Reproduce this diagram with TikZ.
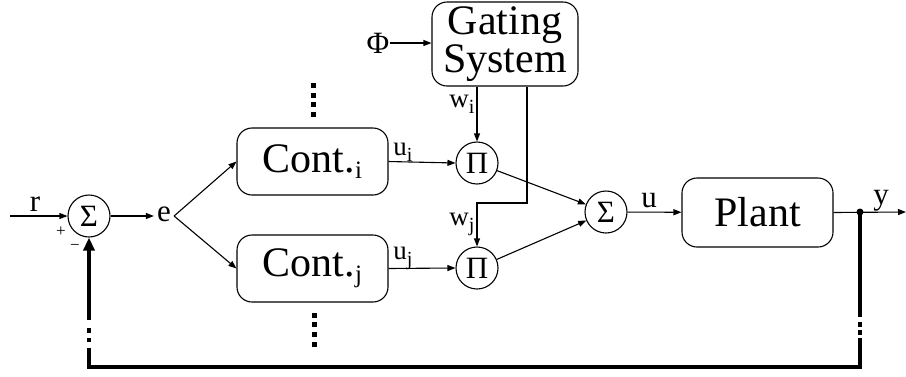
\documentclass[tikz,border=0pt]{standalone}
\usepackage{fontspec}
\setmainfont{Liberation Serif}
\usetikzlibrary{arrows.meta}
% lowered, smaller index letter
\newcommand\sbx[2][20]{\raisebox{-6pt}{\fontsize{#1}{#1}\selectfont #2}}
\tikzset{
  wire/.style={line width=1.1pt, -{Triangle[length=8pt,width=6pt]}},
  blockbox/.style={draw, line width=1.1pt, rounded corners=15pt, inner sep=0pt,
    font=\fontsize{42}{36}\selectfont, align=center},
  junction/.style={draw, circle, line width=1.1pt, minimum size=42pt, inner sep=0pt,
    font=\fontsize{31}{31}\selectfont},
  lbl/.style={inner sep=0pt, font=\fontsize{31}{31}\selectfont},
  slbl/.style={inner sep=0pt, font=\fontsize{27}{27}\selectfont},
  sign/.style={inner sep=0pt, font=\fontsize{17}{17}\selectfont},
  vdots/.style={fill=black, minimum size=5pt, inner sep=0pt},
  feedback/.style={line width=3.3pt,
    dash pattern=on 105pt off 5pt on 5pt off 3pt on 5pt off 3pt on 819pt off 6pt on 4pt off 5pt on 5pt off 8pt on 300pt,
    -{Triangle[length=13pt,width=11pt]}},
}
\begin{document}
\begin{tikzpicture}[x=1pt, y=-1pt]
\useasboundingbox (0,0) rectangle (906,376);

% summing junctions and multipliers
\node[junction] (s1) at (89,216) {Σ};
\node[junction] (pi) at (477,163) {Π};
\node[junction] (pj) at (477,268) {Π};
\node[junction] (s2) at (606,212) {Σ};

% blocks
\node[blockbox, minimum width=151pt, minimum height=67pt] (ci) at (312.5,161.5) {Cont.\sbx[25]{i}};
\node[blockbox, minimum width=151pt, minimum height=67pt] (cj) at (312.5,268.5) {Cont.\sbx[25]{j}};
\node[blockbox, minimum width=146pt, minimum height=84pt] (gs) at (505,44) {Gating\\System};
\node[blockbox, minimum width=151pt, minimum height=69pt] (plant) at (757.5,212.5) {Plant};

% signals
\coordinate (rin) at (10,216);
\node[lbl] (r) at (35,204) {r};
\node[sign] (plus) at (61,232) {+};
\node[sign] (minus) at (75,247) {−};
\node[lbl, inner sep=3pt] (e) at (164,214) {e};
\node[lbl] (phi) at (378,43) {Φ};
\node[slbl] (ui) at (403,152) {u\sbx{i}};
\node[slbl] (uj) at (403,258) {u\sbx{j}};
\node[slbl] (wi) at (462,104) {w\sbx{i}};
\node[slbl] (wj) at (462,224) {w\sbx{j}};
\node[lbl] (u) at (649,201) {u};
\node[lbl] (y) at (881,201) {y};
\coordinate (bend) at (527,203);
\coordinate (yout) at (906,212);
\node[circle, fill=black, minimum size=7pt, inner sep=0pt] (ydot) at (860,212) {};
\coordinate (fbr) at (860,367);
\coordinate (fbl) at (89,367);

% connectors
\draw[wire] (rin) -- (s1.west);
\draw[wire] (s1.east) -- (s1.east -| e.west);
\draw[wire] (e.east |- s1) -- (ci.west);
\draw[wire] (e.east |- s1) -- (cj.west);
\draw[wire] (ci.east) -- (pi.west);
\draw[wire] (cj.east) -- (pj.west);
\draw[wire] (phi.east) -- (phi.east -| gs.west);
\draw[wire] (pi.north |- gs.south) -- (pi.north);
\draw[wire] (gs.south -| bend) -- (bend) -| (pj.north);
\draw[wire] (pi) -- (s2);
\draw[wire] (pj) -- (s2);
\draw[wire] (s2) -- (plant);
\draw[wire] (plant.east) -- (yout);
\draw[feedback] (ydot.center) -- (fbr) -- (fbl) -- (s1.south);

% further controllers, elided
\foreach \yy in {85,95,104,114} \node[vdots] at (313,\yy) {};
\foreach \yy in {315,324,334,344} \node[vdots] at (314,\yy) {};
\end{tikzpicture}
\end{document}
